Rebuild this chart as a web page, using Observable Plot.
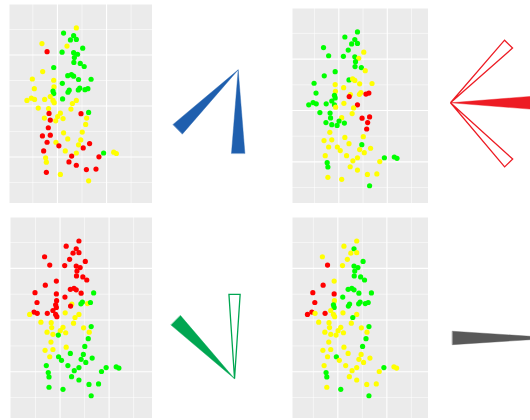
<!DOCTYPE html>
<html><head><meta charset="utf-8">
<script src="https://cdn.jsdelivr.net/npm/d3@7"></script>
<script src="https://cdn.jsdelivr.net/npm/@observablehq/plot@0.6"></script>
<style>
html,body{margin:0;padding:0;background:#fff;overflow:hidden;width:530px;height:420px}
#root{position:relative;width:530px;height:420px;overflow:hidden}
.cell{position:absolute}
.cell svg{display:block;overflow:hidden;background:transparent;max-width:none !important}
</style></head><body><div id="root"></div>
<script>
// ---- shared point coordinates (same points in all four scatter panels)
const xs = [-0.23,-0.75,-0.34,-0.47,-0.23,-1.63,-0.61,0.03,-1.42,-0.81,
  -0.34,-0.18,-0.31,-0.33,-0.07,0.09,-1.15,-1.60,-0.58,-0.43,
  -0.34,-0.14,0.37,-2.02,-1.15,-0.80,-1.14,-1.94,-0.09,-0.15,
  0.12,0.24,-0.52,-0.57,-1.18,-1.15,-1.29,-2.06,-2.24,-1.93,
  -1.52,-1.18,-0.79,-1.13,-0.23,-0.39,-1.78,-1.36,-0.45,-0.88,
  0.27,-1.34,-0.04,-1.53,-0.99,-0.77,-1.29,-1.07,0.19,0.15,
  -1.37,-0.75,0.01,-1.61,-1.29,-0.58,-1.06,-0.05,-1.42,0.31,
  -0.94,-0.14,0.05,-1.56,-0.68,-0.23,0.88,1.29,1.40,-0.42,
  0.69,-1.48,-1.45,-0.53,-0.23,0.18,0.57,-1.45,-0.88,0.27];
const ys = [3.06,2.86,2.76,2.59,2.61,2.45,2.35,2.27,2.13,2.11,
  2.09,2.03,1.90,1.71,1.67,1.55,1.51,1.35,1.19,1.23,
  1.17,1.04,1.05,1.06,1.01,0.89,0.75,0.68,0.70,0.63,
  0.64,0.68,0.62,0.54,0.59,0.49,0.37,0.31,0.22,0.26,
  0.26,0.22,0.28,0.13,0.22,0.10,-0.08,-0.10,-0.12,-0.28,
  -0.25,-0.29,-0.30,-0.47,-0.41,-0.49,-0.55,-0.58,-0.47,-0.72,
  -0.85,-1.05,-1.02,-1.17,-1.14,-1.29,-1.42,-1.33,-1.42,-1.47,
  -1.56,-1.52,-1.64,-1.76,-1.76,-1.84,-1.84,-1.81,-1.86,-1.96,
  -1.99,-2.03,-2.20,-2.19,-2.32,-2.49,-2.47,-2.60,-2.68,-2.93];

// ---- group labels per panel (R = red, Y = yellow, G = green)
const groupsTopLeft = ("YGGGGYYGRG"+"GGGGGGGYGG"+"GGGYYGYYGG"+"GGGGGGYYYY"+"YYGYYYYYYY"+
  "GRRYYYRYYY"+"RYYRRYYYRR"+"RYRRYYGYYR"+"RYYRRRRRYY").split("");
const groupsTopRight = ("GGGGGGGYGG"+"GYGGGYGGGY"+"YYYGYYYGYY"+"RRYRGGGGGG"+"GGYYRYGGYY"+
  "RGRGGGGGRR"+"YYYYYYYGYY"+"YYYYYYGGGY"+"YGGYYYYYYG").split("");
const groupsBottomLeft = ("RRRRRRRRRR"+"RRRRRRRRRR"+"RRGRRRRRGG"+"YGYRRRRRYR"+"RRYRYYYYYY"+
  "GYYYYYYGYG"+"YYGYYGGGYG"+"GGGGGGGGGG"+"GGGGGGGGGG").split("");
const groupsBottomRight = ("YYGYYYYGRY"+"GGGGGGYRGG"+"GGGRRGYRGG"+"GGGGGGYRRY"+"RYYYYGYYYY"+
  "GYYYYYYYYG"+"YYGYYYGYYY"+"YYYYYYGYYY"+"YGGYYYYYGG").split("");

const groupNames = ["R","Y","G"];
const groupColors = ["#ff0000","#ffff00","#00ff00"];

// ---- grid breaks
const majorX = [-1, 1];
const minorX = [-2, 0, 2];
const majorY = [-2, 0, 2];
const minorY = [-3, -1, 1, 3];

// ---- wedge glyphs
const glyphCenterX = [0.612, 0.143, 0.586, 0.90];
const glyphCenterY = [0.670, 0.513, 0.199, 0.393];
const glyphColors = ["#1f5fae", "#ed1c24", "#00a651", "#595959"];
const wedgeGlyph  = [0, 0, 1, 1, 1, 2, 2, 3];
const wedgeAngle  = [225.5, 180, 44.7, 136, 90, 314.8, 0, 270];
const wedgeValue  = [0.847, 0.834, 0.825, 0.837, 0.84, 0.828, 0.843, 1.04];
const wedgeFilled = [true, true, false, false, true, true, false, true];

const root = document.getElementById("root");
function place(node, left, top, w, h) {
  const d = document.createElement("div");
  d.className = "cell";
  d.style.left = left + "px";
  d.style.top = top + "px";
  d.style.width = w + "px";
  d.style.height = h + "px";
  d.appendChild(node);
  root.appendChild(d);
}

function scatter(groups, xdom, ydom, w, h) {
  const data = xs.map((x, i) => ({x, y: ys[i], g: groups[i]}));
  return Plot.plot({
    width: w, height: h, margin: 0,
    style: {background: "transparent"},
    x: {domain: xdom, axis: null},
    y: {domain: ydom, axis: null},
    color: {domain: groupNames, range: groupColors},
    marks: [
      Plot.frame({fill: "#ebebeb", stroke: "none"}),
      Plot.ruleX(minorX, {stroke: "#ffffff", strokeWidth: 0.55}),
      Plot.ruleY(minorY, {stroke: "#ffffff", strokeWidth: 0.55}),
      Plot.ruleX(majorX, {stroke: "#ffffff", strokeWidth: 1.1}),
      Plot.ruleY(majorY, {stroke: "#ffffff", strokeWidth: 1.1}),
      Plot.dot(data, {x: "x", y: "y", r: 2.6, fill: "g"})
    ]
  });
}

const wedgeShape = {
  draw(context, l, r) {
    context.moveTo(-r, 0);
    context.lineTo(0, -l);
    context.lineTo(r, 0);
    context.closePath();
  }
};

function glyph(k) {
  const data = wedgeAngle.map((a, i) => ({
    g: wedgeGlyph[i], angle: a, value: wedgeValue[i], filled: wedgeFilled[i],
    cx: glyphCenterX[wedgeGlyph[i]], cy: glyphCenterY[wedgeGlyph[i]]
  })).filter(d => d.g === k);
  const col = glyphColors[k];
  return Plot.plot({
    width: 140, height: 210, margin: 0,
    style: {background: "transparent"},
    x: {domain: [0, 1], axis: null},
    y: {domain: [0, 1], axis: null},
    length: {domain: [0, 1], range: [0, 100]},
    marks: [
      Plot.vector(data.filter(d => d.filled), {
        x: "cx", y: "cy", length: "value", rotate: d => d.angle + 180,
        anchor: "end", shape: wedgeShape, r: 6.7,
        fill: col, stroke: col, strokeWidth: 0.4, strokeLinejoin: "miter"
      }),
      Plot.vector(data.filter(d => !d.filled), {
        x: "cx", y: "cy", length: "value", rotate: d => d.angle + 180,
        anchor: "end", shape: wedgeShape, r: 5.6,
        fill: "white", stroke: col, strokeWidth: 1.3, strokeLinejoin: "miter"
      })
    ]
  });
}

place(scatter(groupsTopLeft, [-2.95, 2.87], [-3.82, 3.98], 143, 199), 9, 4, 143, 199);
place(scatter(groupsTopRight, [-2.91, 2.70], [-3.62, 3.97], 136, 195), 292, 8, 136, 195);
place(scatter(groupsBottomLeft, [-3.02, 2.77], [-3.81, 3.97], 142, 201), 10, 217, 142, 201);
place(scatter(groupsBottomRight, [-2.85, 2.70], [-3.81, 3.97], 136, 201), 292, 217, 136, 201);
place(glyph(0), 152, 0, 140, 210);
place(glyph(1), 430, 0, 140, 210);
place(glyph(2), 152, 210, 140, 210);
place(glyph(3), 430, 210, 140, 210);
</script></body></html>
